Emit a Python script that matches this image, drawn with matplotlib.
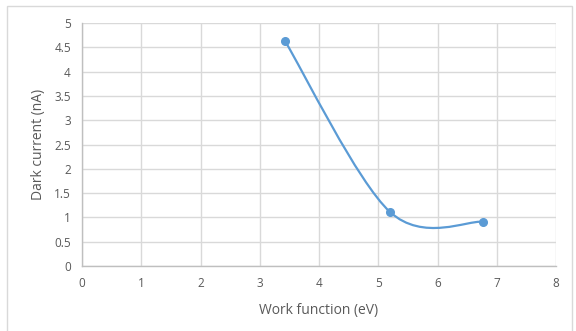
import numpy as np
import matplotlib
matplotlib.use('Agg')
import matplotlib.pyplot as plt
from matplotlib.path import Path
from matplotlib.patches import PathPatch, Rectangle

# measured points
work_function = [3.43, 5.2, 6.76]   # eV
dark_current = [4.62, 1.11, 0.91]   # nA

x_ticks = [0, 1, 2, 3, 4, 5, 6, 7, 8]
y_ticks = [0, 0.5, 1, 1.5, 2, 2.5, 3, 3.5, 4, 4.5, 5]
y_labels = ['0', '0.5', '1', '1.5', '2', '2.5', '3', '3.5', '4', '4.5', '5']

blue = '#5B9BD5'
grey_txt = '#595959'
grid_c = '#D9D9D9'

plt.rcParams['font.family'] = ['Open Sans', 'DejaVu Sans']


def smooth_path(xs, ys, k=1/6.):
    # spreadsheet-style smoothed line: cubic bezier with catmull-rom tangents
    p = np.column_stack([xs, ys]).astype(float)
    n = len(p)
    verts = [p[0]]
    codes = [Path.MOVETO]
    for i in range(n - 1):
        prev = p[i - 1] if i > 0 else p[i]
        nxt = p[i + 2] if i + 2 < n else p[i + 1]
        c1 = p[i] + (p[i + 1] - prev) * k
        c2 = p[i + 1] - (nxt - p[i]) * k
        verts += [c1, c2, p[i + 1]]
        codes += [Path.CURVE4] * 3
    return Path(verts, codes)


fig = plt.figure(figsize=(5.76, 3.31), dpi=100)
ax = fig.add_axes([82/576, 65/331, 474/576, 243/331])

# chart area frame
fig.patches.append(Rectangle((7/576, -0.1), 565/576, 1.1 - 6/331,
                             transform=fig.transFigure, fill=False,
                             edgecolor='#D9D9D9', lw=1.0))

ax.add_patch(PathPatch(smooth_path(work_function, dark_current),
                       facecolor='none', edgecolor=blue, lw=1.6,
                       capstyle='round', zorder=3))
ax.plot(work_function, dark_current, 'o', color=blue, ms=5.5, zorder=4)

ax.set_xlim(0, 8)
ax.set_ylim(0, 5)
ax.set_xticks(x_ticks)
ax.set_yticks(y_ticks)
ax.set_yticklabels(y_labels)
ax.grid(True, color=grid_c, lw=1.0)
ax.set_axisbelow(True)
for s in ['top', 'right']:
    ax.spines[s].set_visible(False)
for s in ['left', 'bottom']:
    ax.spines[s].set_color('#BFBFBF')
    ax.spines[s].set_linewidth(1.0)
ax.tick_params(length=0, labelsize=8.5, labelcolor=grey_txt)
ax.tick_params(axis='x', pad=8)
ax.tick_params(axis='y', pad=8)

ax.set_xlabel('Work function (eV)', fontsize=10, color=grey_txt, labelpad=9)
ax.set_ylabel('Dark current (nA)', fontsize=10, color=grey_txt, labelpad=6)

fig.savefig('out.png', dpi=100)
